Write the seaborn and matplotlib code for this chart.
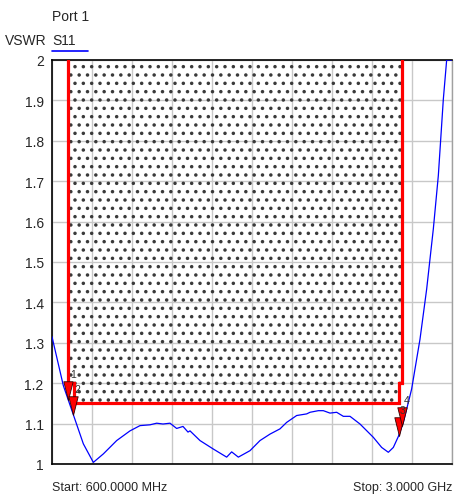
import numpy as np
import seaborn as sns
import matplotlib.pyplot as plt
from matplotlib.path import Path
from matplotlib.lines import Line2D

# S11 trace (MHz, VSWR)
freq = [600, 668, 728, 788, 848, 908, 988, 1068, 1128, 1188, 1228, 1266, 1308,
        1348, 1386, 1416, 1428, 1488, 1568, 1648, 1678, 1718, 1788, 1848, 1908,
        1968, 2008, 2068, 2128, 2148, 2198, 2228, 2268, 2308, 2348, 2388, 2448,
        2528, 2578, 2618, 2648, 2678, 2708, 2748, 2758, 2808, 2848, 2888, 2918,
        2948, 2968, 3000]
vswr = [1.315, 1.194, 1.122, 1.05, 1.004, 1.025, 1.058, 1.082, 1.095, 1.097,
        1.101, 1.099, 1.101, 1.088, 1.093, 1.079, 1.082, 1.058, 1.037, 1.017,
        1.030, 1.017, 1.033, 1.058, 1.074, 1.087, 1.103, 1.12, 1.124, 1.128,
        1.132, 1.132, 1.126, 1.128, 1.118, 1.118, 1.099, 1.066, 1.041, 1.029,
        1.041, 1.068, 1.103, 1.169, 1.186, 1.309, 1.433, 1.582, 1.714, 1.903,
        2.0, 2.0]

# limit mask
lim_freq = [698, 698, 730, 730, 2680, 2680, 2700, 2700]
lim_vswr = [2.0, 1.2, 1.2, 1.15, 1.15, 1.2, 1.2, 2.0]

# markers
marker_freq = [698, 728, 2680, 2700]
marker_names = ["1", "2", "3", "4"]

y_ticks = [1, 1.1, 1.2, 1.3, 1.4, 1.5, 1.6, 1.7, 1.8, 1.9, 2]

sns.set_style('white')
plt.rcParams['font.family'] = ['Liberation Sans', 'DejaVu Sans']
plt.rcParams['hatch.linewidth'] = 1.3

W, H = 454, 502
fig = plt.figure(figsize=(W / 100, H / 100), dpi=100)
ax = fig.add_axes([52 / W, 1 - 465 / H, 400 / W, 404 / H])

# hatched forbidden area above the mask
ax.fill_between(lim_freq, lim_vswr, 2.0, facecolor='none', edgecolor='#3a3a3a',
                hatch='..', linewidth=0, zorder=1)
ax.plot(lim_freq, lim_vswr, color='#ff0000', lw=2.3, solid_joinstyle='miter', zorder=3)

sns.lineplot(x=freq, y=vswr, ax=ax, color='#0000ff', lw=0.9, estimator=None, zorder=4)

tri = Path([(-0.25, 1.0), (0.25, 1.0), (0.0, 0.0), (-0.25, 1.0)],
           [Path.MOVETO, Path.LINETO, Path.LINETO, Path.CLOSEPOLY])
marker_vswr = np.interp(marker_freq, freq, vswr)
ax.plot(marker_freq, marker_vswr, ls='none', marker=tri, ms=27,
        mfc='#ff0000', mec='#300000', mew=0.6, zorder=5)
for f, v, name in zip(marker_freq, marker_vswr, marker_names):
    ax.annotate(name, (f, v), xytext=(1, 15), textcoords='offset points',
                fontsize=7.5, color='#303030', ha='left', va='bottom', zorder=6)

ax.set_xlim(600, 3000)
ax.set_ylim(1, 2)
ax.set_xticks([600 + 240 * i for i in range(11)])
ax.set_xticklabels([])
ax.set_yticks(y_ticks)
ax.set_yticklabels(['%g' % t for t in y_ticks], fontsize=10)
ax.tick_params(length=0, pad=6)
ax.grid(True, color='#c8c8c8', lw=1.0, zorder=0)
ax.set_axisbelow(True)
for side in ['left', 'bottom', 'top']:
    ax.spines[side].set_color('black')
    ax.spines[side].set_linewidth(1.2)
ax.spines['right'].set_color('#a0a0a0')
ax.spines['right'].set_linewidth(1.0)

fig.text(52 / W, 1 - 17 / H, 'Port 1', fontsize=10, va='center', ha='left')
fig.text(52 / W, 1 - 41 / H, 'S11', fontsize=10, va='center', ha='left')
fig.text(5 / W, 1 - 41 / H, 'VSWR', fontsize=10, va='center', ha='left')
fig.add_artist(Line2D([52 / W, 88 / W], [1 - 52 / H, 1 - 52 / H], color='#0000ff', lw=1.2))
fig.text(52 / W, 1 - 488 / H, 'Start: 600.0000 MHz', fontsize=9, va='center', ha='left')
fig.text(452 / W, 1 - 488 / H, 'Stop: 3.0000 GHz', fontsize=9, va='center', ha='right')

fig.savefig('out.png', dpi=100)
